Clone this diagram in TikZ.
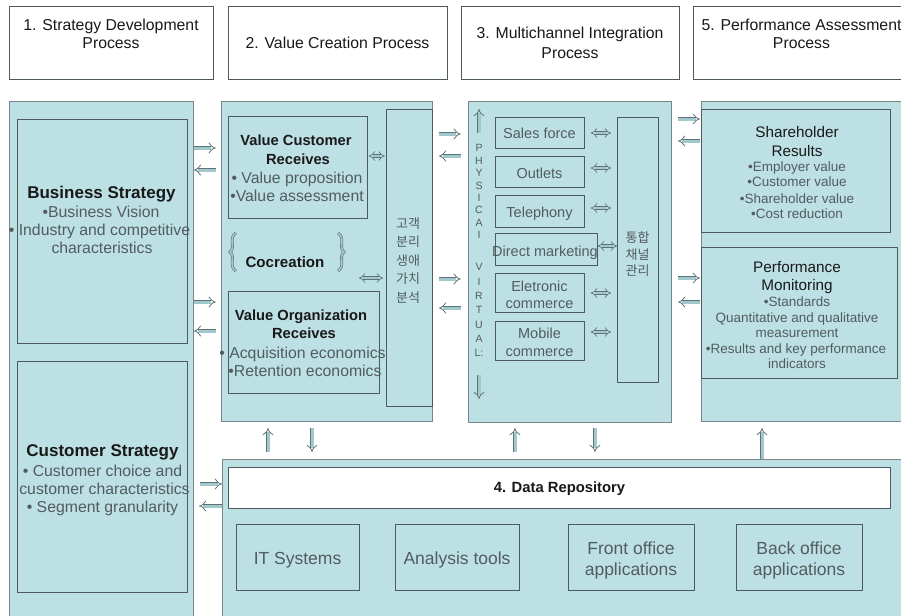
\documentclass[tikz,border=0pt]{standalone}
\usepackage{fontspec}
\setmainfont{Liberation Sans}
\newfontfamily\kfont{Noto Sans CJK KR}
\usetikzlibrary{arrows.meta,calc}
\definecolor{panelfill}{RGB}{189,224,228}
\definecolor{panelline}{RGB}{120,136,138}
\definecolor{boxline}{RGB}{78,90,92}
\definecolor{titletext}{RGB}{25,25,25}
\definecolor{bodytext}{RGB}{82,92,94}
\definecolor{arrline}{RGB}{95,115,117}
\definecolor{arrfill}{RGB}{160,200,205}
\newcommand\fHead{\fontsize{15.8}{18}\selectfont}
\newcommand\fStT{\fontsize{17}{20}\selectfont\bfseries}
\newcommand\fStB{\fontsize{15.8}{18}\selectfont}
\newcommand\fVT{\fontsize{14.7}{17}\selectfont\bfseries}
\newcommand\fCo{\fontsize{15.1}{17}\selectfont\bfseries}
\newcommand\fKo{\kfont\fontsize{13}{15}\selectfont}
\newcommand\fCh{\fontsize{14.5}{17}\selectfont}
\newcommand\fPh{\fontsize{10.5}{12}\selectfont}
\newcommand\fPT{\fontsize{15.3}{17}\selectfont}
\newcommand\fPB{\fontsize{13.5}{15}\selectfont}
\newcommand\fDR{\fontsize{14.8}{17}\selectfont\bfseries}
\newcommand\fBot{\fontsize{17.5}{20}\selectfont}
\begin{document}
\begin{tikzpicture}[x=1pt,y=-1pt,
  hdr/.style={draw=boxline, line width=0.8pt, fill=white, anchor=north west, inner sep=0pt},
  panel/.style={draw=panelline, line width=0.8pt, fill=panelfill, anchor=north west, inner sep=0pt},
  ibox/.style={draw=boxline, line width=0.8pt, fill=panelfill, anchor=north west, inner sep=0pt},
  wbox/.style={draw=boxline, line width=0.8pt, fill=white, anchor=north west, inner sep=0pt},
  ttl/.style={anchor=base, inner sep=0pt, text=titletext},
  bdy/.style={anchor=base, inner sep=0pt, text=bodytext},
  darr/.style={draw=arrline, line width=0.8pt, double=arrfill, double distance=3pt, -{Implies}},
  dbarr/.style={draw=arrline, line width=0.7pt, double=arrfill, double distance=2.6pt, {Implies}-{Implies}},
  brc/.style={draw=arrline, line width=0.6pt, double=arrfill, double distance=1.6pt}
]
\useasboundingbox (0,0) rectangle (901,615);
\clip (0,0) rectangle (901,615);

% header boxes
\node[hdr, minimum width=204, minimum height=73] (h1) at (9,6) {};
\node[hdr, minimum width=219, minimum height=73] (h2) at (228,6) {};
\node[hdr, minimum width=218, minimum height=73] (h3) at (461,6) {};
\node[hdr, minimum width=217, minimum height=73] (h5) at (693,6) {};
\node[ttl, font=\fHead] (h1a) at (111,31) {1. Strategy Development};
\node[ttl, font=\fHead] (h1b) at (111,49) {Process};
\node[ttl, font=\fHead] (h2a) at (337.5,49) {2. Value Creation Process};
\node[ttl, font=\fHead] (h3a) at (570,39) {3. Multichannel Integration};
\node[ttl, font=\fHead] (h3b) at (570,59) {Process};
\node[ttl, font=\fHead] (h5a) at (801.5,31) {5. Performance Assessment};
\node[ttl, font=\fHead] (h5b) at (801.5,49) {Process};

% panels
\node[panel, minimum width=184, minimum height=530] (p1) at (9,101) {};
\node[panel, minimum width=211, minimum height=320] (p2) at (221,101) {};
\node[panel, minimum width=203, minimum height=321] (p3) at (468,101) {};
\node[panel, minimum width=215, minimum height=320] (p5) at (701,101) {};
\node[panel, minimum width=695, minimum height=170] (p4) at (222,459) {};

% panel 1
\node[ibox, minimum width=170, minimum height=224] (bs) at (17,119) {};
\node[ibox, minimum width=170, minimum height=231] (cs) at (17,361) {};
\node[ttl, font=\fStT] (bs1) at (101.5,198) {Business Strategy};
\node[bdy, font=\fStB] (bs2) at (101,217) {•Business Vision};
\node[bdy, font=\fStB] (bs3) at (99.5,235) {• Industry and competitive};
\node[bdy, font=\fStB] (bs4) at (102,253) {characteristics};
\node[ttl, font=\fStT] (cs1) at (102.5,456) {Customer Strategy};
\node[bdy, font=\fStB] (cs2) at (102.5,476) {• Customer choice and};
\node[bdy, font=\fStB] (cs3) at (104.5,494) {customer characteristics};
\node[bdy, font=\fStB] (cs4) at (102.5,512) {• Segment granularity};

% panel 2
\node[ibox, minimum width=139, minimum height=102] (vcr) at (228,116) {};
\node[ibox, minimum width=151, minimum height=102] (vor) at (228,291) {};
\node[ibox, minimum width=46, minimum height=297] (kcol) at (386,109) {};
\node[ttl, font=\fVT] (vcr1) at (296,145) {Value Customer};
\node[ttl, font=\fVT] (vcr2) at (298,164) {Receives};
\node[bdy, font=\fStB] (vcr3) at (297,183) {• Value proposition};
\node[bdy, font=\fStB] (vcr4) at (297,201) {•Value assessment};
\node[ttl, font=\fVT] (vor1) at (301,320) {Value Organization};
\node[ttl, font=\fVT] (vor2) at (304,338) {Receives};
\node[bdy, font=\fStB] (vor3) at (302.5,358) {• Acquisition economics};
\node[bdy, font=\fStB] (vor4) at (305,376) {•Retention economics};
\node[ttl, font=\fCo] (coc) at (285,267) {Cocreation};
\draw[brc] (236,233) .. controls (228,238) and (236,248) .. (230,252) .. controls (236,256) and (228,266) .. (236,271);
\draw[brc] (338,233) .. controls (346,238) and (338,248) .. (344,252) .. controls (338,256) and (346,266) .. (338,271);
\node[bdy, font=\fKo] (k1) at (408,228) {고객};
\node[bdy, font=\fKo] (k2) at (408,246.5) {분리};
\node[bdy, font=\fKo] (k3) at (408,265) {생애};
\node[bdy, font=\fKo] (k4) at (408,283.5) {가치};
\node[bdy, font=\fKo] (k5) at (408,302) {분석};
\draw[dbarr] ($(vcr.east |- 0,156)+(1,0)$) -- ++(16,0);
\draw[dbarr] ($(kcol.west |- 0,278)+(-27,0)$) -- ++(24,0);

% panel 3
\node[ibox, minimum width=89, minimum height=31] (sf) at (495,117) {};
\node[ibox, minimum width=89, minimum height=31] (ou) at (495,156) {};
\node[ibox, minimum width=89, minimum height=32] (te) at (495,195) {};
\node[ibox, minimum width=102, minimum height=32] (dm) at (495,233) {};
\node[ibox, minimum width=89, minimum height=39] (ec) at (495,273) {};
\node[ibox, minimum width=89, minimum height=39] (mc) at (495,321) {};
\node[ibox, minimum width=41, minimum height=265] (icm) at (617,117) {};
\node[bdy, font=\fCh] (sf1) at (539.5,139) {Sales force};
\node[bdy, font=\fCh] (ou1) at (539.5,178) {Outlets};
\node[bdy, font=\fCh] (te1) at (539.5,217) {Telephony};
\node[bdy, font=\fCh] (dm1) at (545,256) {Direct marketing};
\node[bdy, font=\fCh] (ec1) at (539.5,291) {Eletronic};
\node[bdy, font=\fCh] (ec2) at (539.5,308) {commerce};
\node[bdy, font=\fCh] (mc1) at (539.5,338) {Mobile};
\node[bdy, font=\fCh] (mc2) at (539.5,356) {commerce};
\node[bdy, font=\fKo] (i1) at (637.5,242) {통합};
\node[bdy, font=\fKo] (i2) at (637.5,259) {채널};
\node[bdy, font=\fKo] (i3) at (637.5,275.5) {관리};
\foreach \c [count=\i] in {P,H,Y,S,I,C,A,I}
  \node[bdy, font=\fPh] (ph\i) at (479,{151.8+(\i-1)*12.4}) {\c};
\foreach \c [count=\i] in {V,I,R,T,U,A,L:}
  \node[bdy, font=\fPh] (vi\i) at (479,{270.8+(\i-1)*14.3}) {\c};
\draw[darr] ($(p3.north -| 479,0)+(0,32)$) -- ++(0,-24);
\draw[darr] ($(p3.north -| 479,0)+(0,274)$) -- ++(0,24);
\draw[dbarr] ($(sf.east)+(6,0)$) -- ($(icm.west |- sf.east)+(-6,0)$);
\draw[dbarr] ($(ou.east |- 0,168)+(6,0)$) -- ($(icm.west |- 0,168)+(-6,0)$);
\draw[dbarr] ($(te.east |- 0,208)+(6,0)$) -- ($(icm.west |- 0,208)+(-6,0)$);
\draw[dbarr] (dm.east |- 0,246) -- (icm.west |- 0,246);
\draw[dbarr] ($(ec.east |- 0,293)+(6,0)$) -- ($(icm.west |- 0,293)+(-6,0)$);
\draw[dbarr] ($(mc.east |- 0,332)+(6,0)$) -- ($(icm.west |- 0,332)+(-6,0)$);

% panel 5
\node[ibox, minimum width=189, minimum height=123] (sr) at (701,109) {};
\node[ibox, minimum width=196, minimum height=131] (pm) at (701,247) {};
\node[ttl, font=\fPT] (sr1) at (797,137.5) {Shareholder};
\node[ttl, font=\fPT] (sr2) at (797,156.5) {Results};
\node[bdy, font=\fPB] (sr3) at (797,171.7) {•Employer value};
\node[bdy, font=\fPB] (sr4) at (797,186.7) {•Customer value};
\node[bdy, font=\fPB] (sr5) at (797,203.7) {•Shareholder value};
\node[bdy, font=\fPB] (sr6) at (797,218.7) {•Cost reduction};
\node[ttl, font=\fPT] (pm1) at (797,272.4) {Performance};
\node[ttl, font=\fPT] (pm2) at (797,290.4) {Monitoring};
\node[bdy, font=\fPB] (pm3) at (797,306.7) {•Standards};
\node[bdy, font=\fPB] (pm4) at (797,322.7) {Quantitative and qualitative};
\node[bdy, font=\fPB] (pm5) at (797,337.7) {measurement};
\node[bdy, font=\fPB] (pm6) at (796,353.7) {•Results and key performance};
\node[bdy, font=\fPB] (pm7) at (797,368.7) {indicators};

% panel 4
\node[wbox, minimum width=662, minimum height=41] (dr) at (228,467) {};
\node[ibox, minimum width=123, minimum height=66] (it) at (236,524) {};
\node[ibox, minimum width=124, minimum height=66] (an) at (395,524) {};
\node[ibox, minimum width=126, minimum height=66] (fo) at (568,524) {};
\node[ibox, minimum width=126, minimum height=66] (bo) at (736,524) {};
\node[ttl, font=\fDR] (dr1) at (559.5,492.3) {4. Data Repository};
\node[bdy, font=\fBot] (it1) at (297.5,564.5) {IT Systems};
\node[bdy, font=\fBot] (an1) at (457,564.5) {Analysis tools};
\node[bdy, font=\fBot] (fo1) at (631,554.3) {Front office};
\node[bdy, font=\fBot] (fo2) at (631,575.3) {applications};
\node[bdy, font=\fBot] (bo1) at (799,554.3) {Back office};
\node[bdy, font=\fBot] (bo2) at (799,575.3) {applications};

% arrows between panels
\draw[darr] (p1.east |- 0,148) -- ++(22,0);
\draw[darr] ($(p1.east |- 0,170)+(22,0)$) -- (p1.east |- 0,170);
\draw[darr] (p1.east |- 0,302) -- ++(22,0);
\draw[darr] ($(p1.east |- 0,331)+(22,0)$) -- (p1.east |- 0,331);
\draw[darr] ($(p4.west |- 0,484)+(-22,0)$) -- (p4.west |- 0,484);
\draw[darr] (p4.west |- 0,506) -- ++(-23,0);
\draw[darr] ($(p2.east |- 0,134)+(6,0)$) -- ++(22,0);
\draw[darr] ($(p2.east |- 0,156)+(28,0)$) -- ++(-22,0);
\draw[darr] ($(p2.east |- 0,279)+(6,0)$) -- ++(22,0);
\draw[darr] ($(p2.east |- 0,308)+(28,0)$) -- ++(-22,0);
\draw[darr] ($(p5.west |- 0,119)+(-23,0)$) -- ++(22,0);
\draw[darr] ($(p5.west |- 0,141)+(-1,0)$) -- ++(-22,0);
\draw[darr] ($(p5.west |- 0,278)+(-23,0)$) -- ++(22,0);
\draw[darr] ($(p5.west |- 0,302)+(-1,0)$) -- ++(-22,0);
\draw[darr] ($(p4.north -| 268,0)+(0,-7)$) -- ++(0,-24);
\draw[darr] ($(p4.north -| 312,0)+(0,-31)$) -- ++(0,24);
\draw[darr] ($(p4.north -| 515,0)+(0,-7)$) -- ++(0,-24);
\draw[darr] ($(p4.north -| 595,0)+(0,-31)$) -- ++(0,24);
\draw[darr] (p4.north -| 762,0) -- ++(0,-31);
\end{tikzpicture}
\end{document}
